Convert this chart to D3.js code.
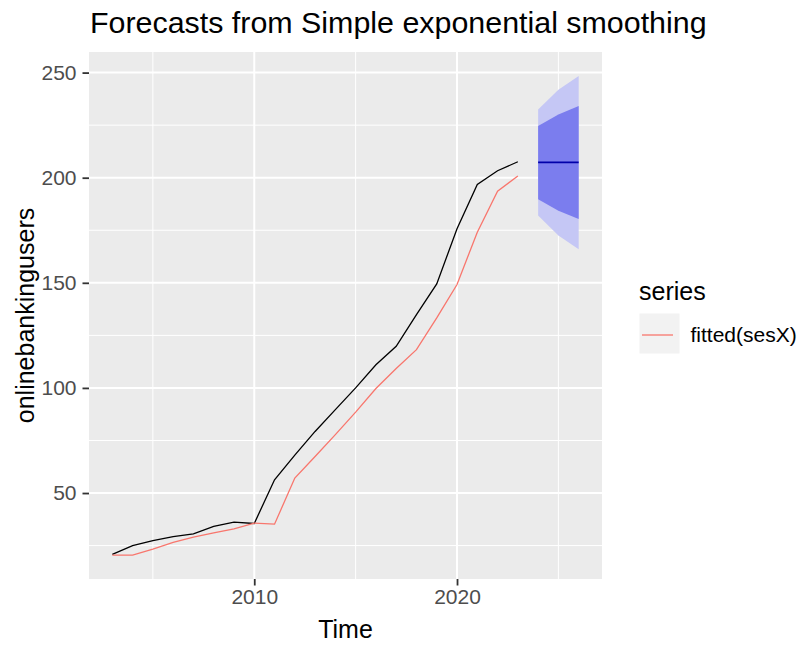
<!DOCTYPE html>
<html>
<head>
<meta charset="utf-8">
<script src="https://cdn.jsdelivr.net/npm/d3@7"></script>
<style>
  html, body { margin: 0; padding: 0; background: #ffffff; }
  svg { display: block; font-family: "Liberation Sans", Arial, sans-serif; }
</style>
</head>
<body>
<svg id="chart" width="802" height="646"></svg>
<script>
// Observed series (annual)
const years = [2003, 2004, 2005, 2006, 2007, 2008, 2009, 2010, 2011, 2012, 2013,
               2014, 2015, 2016, 2017, 2018, 2019, 2020, 2021, 2022, 2023];
const onlineBankingUsers = [20.8, 25.0, 27.4, 29.3, 30.6, 34.1, 36.2, 35.5, 56.3, 68.0, 79.3,
                            89.7, 100.0, 111.0, 119.8, 134.9, 149.5, 175.7, 196.8, 203.3, 207.6];
// One-step fitted values from simple exponential smoothing
const fittedSes = [20.5, 20.5, 23.3, 26.5, 29.0, 31.0, 32.9, 35.7, 35.2, 57.1, 67.4,
                   77.8, 88.5, 99.7, 109.2, 118.2, 133.3, 149.2, 174.1, 193.6, 200.8];
// Forecast horizon with 80% and 95% prediction intervals
const forecastYears = [2024, 2025, 2026];
const forecastMean = [207.3, 207.3, 207.3];
const lo80 = [189.8, 184.3, 180.3];
const hi80 = [224.6, 230.1, 234.1];
const lo95 = [182.0, 172.5, 166.0];
const hi95 = [232.5, 241.8, 248.4];
// Axis breaks
const xMajor = [2010, 2020];
const xMinor = [2005, 2015, 2025];
const yMajor = [50, 100, 150, 200, 250];
const yMinor = [25, 75, 125, 175, 225];

const svg = d3.select("#chart");
const panel = { left: 89, right: 602, top: 52, bottom: 579 };

// ggplot-style 5% expansion of the data range
function expand(lo, hi) { const d = (hi - lo) * 0.05; return [lo - d, hi + d]; }
const allYears = years.concat(forecastYears);
const allValues = onlineBankingUsers.concat(fittedSes, lo95, hi95, forecastMean);
const x = d3.scaleLinear().domain(expand(d3.min(allYears), d3.max(allYears)))
  .range([panel.left, panel.right]);
const y = d3.scaleLinear().domain(expand(d3.min(allValues), d3.max(allValues)))
  .range([panel.bottom, panel.top]);

// Panel background and grid
svg.append("rect")
  .attr("x", panel.left).attr("y", panel.top)
  .attr("width", panel.right - panel.left).attr("height", panel.bottom - panel.top)
  .attr("fill", "#EBEBEB");

const grid = svg.append("g");
grid.selectAll(".ymin").data(yMinor.filter(v => y(v) > panel.top && y(v) < panel.bottom)).enter()
  .append("line").attr("x1", panel.left).attr("x2", panel.right)
  .attr("y1", d => y(d)).attr("y2", d => y(d))
  .attr("stroke", "#ffffff").attr("stroke-width", 1);
grid.selectAll(".xmin").data(xMinor).enter()
  .append("line").attr("y1", panel.top).attr("y2", panel.bottom)
  .attr("x1", d => x(d)).attr("x2", d => x(d))
  .attr("stroke", "#ffffff").attr("stroke-width", 1);
grid.selectAll(".ymaj").data(yMajor).enter()
  .append("line").attr("x1", panel.left).attr("x2", panel.right)
  .attr("y1", d => y(d)).attr("y2", d => y(d))
  .attr("stroke", "#ffffff").attr("stroke-width", 2);
grid.selectAll(".xmaj").data(xMajor).enter()
  .append("line").attr("y1", panel.top).attr("y2", panel.bottom)
  .attr("x1", d => x(d)).attr("x2", d => x(d))
  .attr("stroke", "#ffffff").attr("stroke-width", 2);

// Prediction interval ribbons
const fc = forecastYears.map((yr, i) => ({ yr, mean: forecastMean[i], lo80: lo80[i], hi80: hi80[i], lo95: lo95[i], hi95: hi95[i] }));
svg.append("path").datum(fc)
  .attr("d", d3.area().x(d => x(d.yr)).y0(d => y(d.lo95)).y1(d => y(d.hi95)))
  .attr("fill", "#C5C7F5");
svg.append("path").datum(fc)
  .attr("d", d3.area().x(d => x(d.yr)).y0(d => y(d.lo80)).y1(d => y(d.hi80)))
  .attr("fill", "#7B7DEE");

// Observed series
const obs = years.map((yr, i) => ({ yr, v: onlineBankingUsers[i] }));
svg.append("path").datum(obs)
  .attr("d", d3.line().x(d => x(d.yr)).y(d => y(d.v)))
  .attr("fill", "none").attr("stroke", "#000000").attr("stroke-width", 1.3);

// Point forecast
svg.append("path").datum(fc)
  .attr("d", d3.line().x(d => x(d.yr)).y(d => y(d.mean)))
  .attr("fill", "none").attr("stroke", "#0000AA").attr("stroke-width", 1.6);

// Fitted values
const fit = years.map((yr, i) => ({ yr, v: fittedSes[i] }));
svg.append("path").datum(fit)
  .attr("d", d3.line().x(d => x(d.yr)).y(d => y(d.v)))
  .attr("fill", "none").attr("stroke", "#F8766D").attr("stroke-width", 1.3);

// Axes
const yAxis = svg.append("g").attr("transform", `translate(${panel.left},0)`)
  .call(d3.axisLeft(y).tickValues(yMajor).tickSize(6.5).tickPadding(6).tickFormat(d3.format("d")));
const xAxis = svg.append("g").attr("transform", `translate(0,${panel.bottom})`)
  .call(d3.axisBottom(x).tickValues(xMajor).tickSize(6.5).tickPadding(4).tickFormat(d3.format("d")));
[yAxis, xAxis].forEach(a => {
  a.select(".domain").remove();
  a.selectAll(".tick line").attr("stroke", "#333333").attr("stroke-width", 1.8);
  a.selectAll(".tick text").attr("fill", "#4D4D4D")
    .style("font-size", "21px").style("font-family", "'Liberation Sans', Arial, sans-serif");
});

// Titles
svg.append("text").attr("x", 90).attr("y", 33)
  .style("font-size", "30.4px").attr("fill", "#000000")
  .text("Forecasts from Simple exponential smoothing");
svg.append("text").attr("x", (panel.left + panel.right) / 2).attr("y", 638)
  .attr("text-anchor", "middle").style("font-size", "25px").attr("fill", "#000000")
  .text("Time");
svg.append("text")
  .attr("transform", `translate(33.5,${(panel.top + panel.bottom) / 2}) rotate(-90)`)
  .attr("text-anchor", "middle").style("font-size", "25px").attr("fill", "#000000")
  .text("onlinebankingusers");

// Legend
const legend = svg.append("g");
legend.append("text").attr("x", 639).attr("y", 300)
  .style("font-size", "25px").attr("fill", "#000000").text("series");
legend.append("rect").attr("x", 639.5).attr("y", 313.5).attr("width", 40).attr("height", 40)
  .attr("fill", "#F2F2F2");
legend.append("line").attr("x1", 642).attr("x2", 673).attr("y1", 335).attr("y2", 335)
  .attr("stroke", "#F8766D").attr("stroke-width", 1.3);
legend.append("text").attr("x", 690.5).attr("y", 341.5)
  .style("font-size", "21px").attr("fill", "#000000").text("fitted(sesX)");
</script>
</body>
</html>
